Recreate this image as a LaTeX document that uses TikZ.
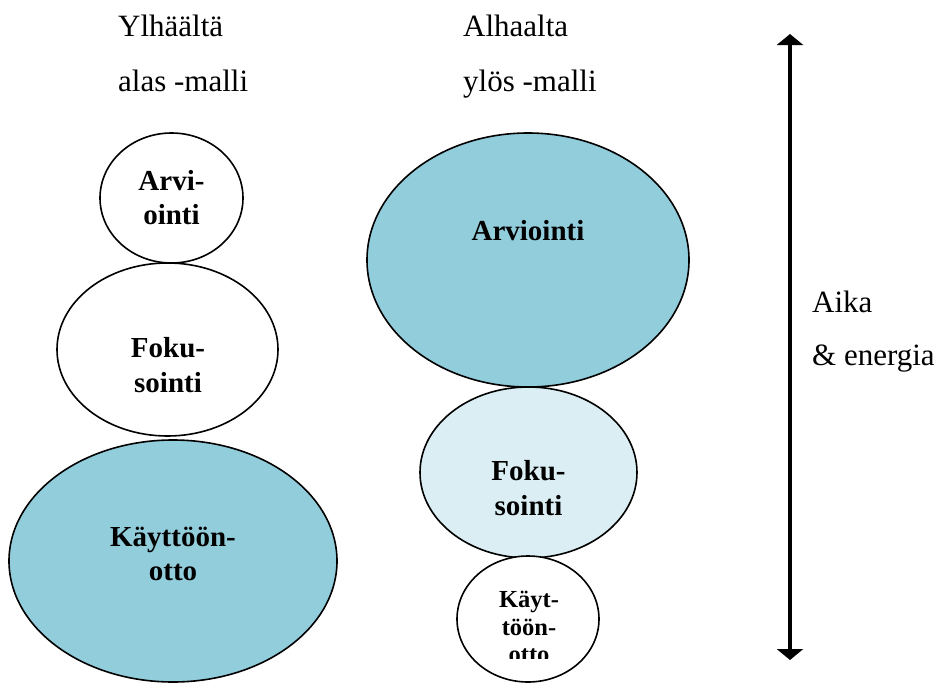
\documentclass[tikz,border=0pt]{standalone}
\usepackage{fontspec}
\setmainfont{Liberation Serif}
\usetikzlibrary{shapes.geometric,arrows.meta}
\definecolor{phasedark}{HTML}{92CDDC}
\definecolor{phaselight}{HTML}{DAEEF3}
\tikzset{
  phase/.style={ellipse, draw=black, line width=1.6pt, inner sep=0pt},
  heading/.style={anchor=base west, inner sep=0pt, font=\fontsize{31}{37}\selectfont},
  phasetext/.style={align=center, inner sep=0pt, font=\fontsize{29}{34.5}\selectfont\bfseries},
  smalltext/.style={align=center, inner sep=0pt, font=\fontsize{24.5}{27.5}\selectfont\bfseries},
}
\begin{document}
\begin{tikzpicture}[x=1pt, y=-1pt]
  \useasboundingbox (0,0) rectangle (938,683);

  % column headings
  \node[heading] (h1a) at (118,36) {Ylhäältä};
  \node[heading] (h1b) at (118,91) {alas -malli};
  \node[heading] (h2a) at (463,36) {Alhaalta};
  \node[heading] (h2b) at (463,91) {ylös -malli};

  % top-down model
  \node[phase, fill=white, minimum width=143pt, minimum height=130pt] (tdA) at (171.5,198) {};
  \node[phase, fill=white, minimum width=221pt, minimum height=173pt] (tdF) at (167.5,349.5) {};
  \node[phase, fill=phasedark, minimum width=328pt, minimum height=242pt] (tdK) at (173,561) {};
  \node[phasetext] (tdAt) at (171.5,197.5) {Arvi-\\ointi};
  \node[phasetext] (tdFt) at (168,365) {Foku-\\sointi};
  \node[phasetext] (tdKt) at (173,554) {Käyttöön-\\otto};

  % bottom-up model
  \node[phase, fill=phasedark, minimum width=322pt, minimum height=254pt] (buA) at (528,260) {};
  \node[phase, fill=phaselight, minimum width=217pt, minimum height=171pt] (buF) at (528.5,472.5) {};
  \node[phase, fill=white, minimum width=142pt, minimum height=126pt] (buK) at (528,619) {};
  \node[phasetext, anchor=base] (buAt) at (528,240) {Arviointi};
  \node[phasetext] (buFt) at (528.5,488) {Foku-\\sointi};
  \begin{scope}
    \clip (440,560) rectangle (620,658);
    \node[smalltext] (buKt) at (529,627) {Käyt-\\töön-\\otto};
  \end{scope}

  % time and energy axis
  \coordinate (axtop) at (790,34);
  \coordinate (axbot) at (790,660);
  \draw[line width=3.5pt, {Triangle[width=26pt,length=11pt]}-{Triangle[width=26pt,length=11pt]}] (axtop) -- (axbot);
  \node[heading] (ax1) at (812,312) {Aika};
  \node[heading] (ax2) at (812,365) {\& energia};
\end{tikzpicture}
\end{document}
